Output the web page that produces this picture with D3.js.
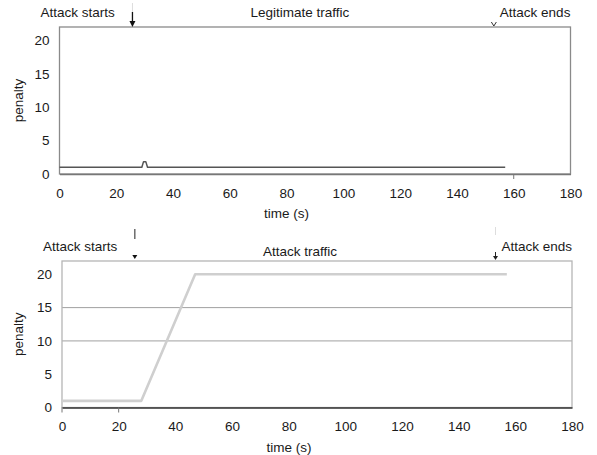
<!DOCTYPE html>
<html>
<head>
<meta charset="utf-8">
<script src="https://cdn.jsdelivr.net/npm/d3@7"></script>
<style>
  body { margin: 0; background: #fff; }
  svg text { font-family: "Liberation Sans", Arial, sans-serif; fill: #1a1a1a; }
</style>
</head>
<body>
<div id="chart"></div>
<script>
// values
const legitTime    = [0, 29, 29.6, 30.4, 31, 157];
const legitPenalty = [1, 1, 1.85, 1.85, 1, 1];
const attackTime    = [0, 28, 47, 157];
const attackPenalty = [1, 1, 20, 20];
const xTicks = [0, 20, 40, 60, 80, 100, 120, 140, 160, 180];
const yTicks = [0, 5, 10, 15, 20];
const attackMarks = [25.7, 153]; // start / end of attack (s)
const titles = ["Legitimate traffic", "Attack traffic"];

const FS = "13.5px";

const svg = d3.select("#chart").append("svg")
    .attr("width", 597)
    .attr("height", 455);

// draw one panel
function drawPanel(cfg) {
    const g = svg.append("g").attr("transform", `translate(${cfg.left},${cfg.top})`);
    const x = d3.scaleLinear().domain([0, 180]).range([0, cfg.width]);
    const y = d3.scaleLinear().domain([0, 22]).range([cfg.height, 0]);

    // gridlines
    g.selectAll("line.grid").data(cfg.grid).join("line")
        .attr("class", "grid")
        .attr("x1", 0).attr("x2", cfg.width)
        .attr("y1", d => y(d)).attr("y2", d => y(d))
        .attr("stroke", "#a0a0a0").attr("stroke-width", 1);

    // frame
    g.append("rect")
        .attr("width", cfg.width).attr("height", cfg.height)
        .attr("fill", "none").attr("stroke", cfg.frame).attr("stroke-width", 1.3);

    // axes
    const xAxis = g.append("g").attr("transform", `translate(0,${cfg.height})`)
        .call(d3.axisBottom(x).tickValues(xTicks).tickSize(0).tickPadding(14));
    xAxis.select(".domain").attr("stroke", cfg.axisColor).attr("stroke-width", 1.5);
    xAxis.selectAll("text").attr("font-size", FS);

    const yAxis = g.append("g")
        .call(d3.axisLeft(y).tickValues(yTicks).tickSize(0).tickPadding(10));
    yAxis.select(".domain").remove();
    yAxis.selectAll("text").attr("font-size", FS);

    // small tick marks
    g.selectAll("line.tk").data(cfg.tickMarks).join("line")
        .attr("class", "tk")
        .attr("x1", d => x(d)).attr("x2", d => x(d))
        .attr("y1", cfg.height).attr("y2", cfg.height + 5)
        .attr("stroke", "#777").attr("stroke-width", 1);

    // data line
    const line = d3.line().x(d => x(d[0])).y(d => y(d[1]));
    g.append("path")
        .datum(d3.zip(cfg.time, cfg.penalty))
        .attr("d", line)
        .attr("fill", "none")
        .attr("stroke", cfg.lineColor)
        .attr("stroke-width", cfg.lineWidth)
        .attr("stroke-linejoin", "round");

    // axis titles
    g.append("text")
        .attr("transform", `translate(${cfg.ylabelX},${cfg.height / 2}) rotate(-90)`)
        .attr("text-anchor", "middle")
        .attr("font-size", FS)
        .text("penalty");
    g.append("text")
        .attr("x", 227).attr("y", cfg.height + 44)
        .attr("text-anchor", "middle")
        .attr("font-size", FS)
        .text("time (s)");

    // annotations
    g.append("text").attr("x", cfg.startTextX).attr("y", cfg.labelY)
        .attr("font-size", FS).text("Attack starts");
    g.append("text").attr("x", cfg.titleX).attr("y", cfg.titleY)
        .attr("font-size", FS).text(cfg.title);
    g.append("text").attr("x", x(attackMarks[1]) + 6).attr("y", cfg.labelY)
        .attr("font-size", FS).text("Attack ends");

    cfg.arrows(g, x);
}

function arrowHead(g, cx, tipY, w, h, color) {
    g.append("path")
        .attr("d", `M${cx - w},${tipY - h}L${cx + w},${tipY - h}L${cx},${tipY}Z`)
        .attr("fill", color);
}

drawPanel({
    left: 59.5, top: 27, width: 511, height: 147,
    time: legitTime, penalty: legitPenalty,
    lineColor: "#555", lineWidth: 1.5,
    frame: "#8a8a8a", axisColor: "#777",
    grid: [], tickMarks: [160],
    ylabelX: -37, labelY: -10, startTextX: -19,
    title: titles[0], titleX: 191, titleY: -10,
    arrows: (g, x) => {
        const sx = x(attackMarks[0]);
        g.append("line").attr("x1", sx).attr("x2", sx).attr("y1", -24).attr("y2", -14)
            .attr("stroke", "#ddd").attr("stroke-width", 1);
        g.append("line").attr("x1", sx).attr("x2", sx).attr("y1", -15).attr("y2", -3)
            .attr("stroke", "#111").attr("stroke-width", 1.3);
        arrowHead(g, sx, 0, 3, 6, "#111");
        const ex = x(attackMarks[1]);
        g.append("path").attr("d", `M${ex - 2.5},-5L${ex},-1L${ex + 2.5},-5`)
            .attr("fill", "none").attr("stroke", "#333").attr("stroke-width", 1);
    }
});

drawPanel({
    left: 62, top: 261, width: 510, height: 146.5,
    time: attackTime, penalty: attackPenalty,
    lineColor: "#cfcfcf", lineWidth: 2.6,
    frame: "#b5b5b5", axisColor: "#333",
    grid: [10, 15], tickMarks: [0, 20],
    ylabelX: -39, labelY: -10, startTextX: -19,
    title: titles[1], titleX: 201, titleY: -5,
    arrows: (g, x) => {
        const sx = x(attackMarks[0]);
        g.append("line").attr("x1", sx).attr("x2", sx).attr("y1", -32).attr("y2", -22)
            .attr("stroke", "#555").attr("stroke-width", 1.3);
        arrowHead(g, sx, -2, 2.5, 4, "#111");
        const ex = x(attackMarks[1]);
        g.append("line").attr("x1", ex).attr("x2", ex).attr("y1", -34).attr("y2", -26)
            .attr("stroke", "#ddd").attr("stroke-width", 1);
        g.append("line").attr("x1", ex).attr("x2", ex).attr("y1", -9).attr("y2", -4)
            .attr("stroke", "#222").attr("stroke-width", 1);
        arrowHead(g, ex, -1, 2.5, 4, "#222");
    }
});
</script>
</body>
</html>
